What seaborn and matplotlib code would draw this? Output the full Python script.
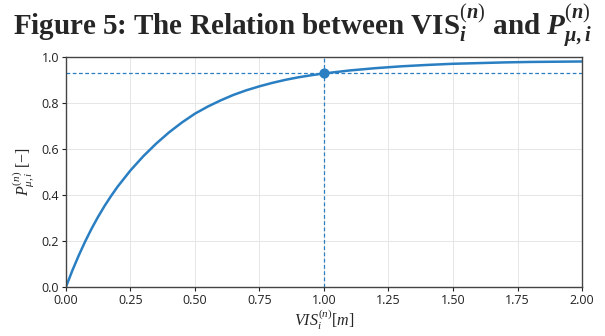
import matplotlib
matplotlib.use("Agg")
import matplotlib.pyplot as plt
import seaborn as sns
import pandas as pd

# values
vis = [0.000, 0.025, 0.050, 0.075, 0.100, 0.125, 0.150, 0.175, 0.200,
       0.250, 0.300, 0.350, 0.400, 0.450, 0.500, 0.550, 0.600, 0.650,
       0.700, 0.750, 0.800, 0.850, 0.900, 0.950, 1.000,
       1.100, 1.200, 1.300, 1.400, 1.500, 1.600, 1.700, 1.800, 1.900, 2.000]
prob = [0.000, 0.072, 0.138, 0.199, 0.255, 0.306, 0.353, 0.396, 0.436,
        0.507, 0.569, 0.624, 0.673, 0.716, 0.754, 0.785, 0.812, 0.836,
        0.856, 0.873, 0.888, 0.901, 0.912, 0.921, 0.929,
        0.942, 0.952, 0.960, 0.966, 0.971, 0.974, 0.977, 0.979, 0.980, 0.981]
mark_x = [1.0]
mark_y = [0.929]

x_ticks = [0.00, 0.25, 0.50, 0.75, 1.00, 1.25, 1.50, 1.75, 2.00]
y_ticks = [0.0, 0.2, 0.4, 0.6, 0.8, 1.0]

df = pd.DataFrame({"vis": vis, "p": prob})

sns.set_theme(style="whitegrid")
plt.rcParams["font.family"] = ["Open Sans", "DejaVu Sans"]
plt.rcParams["mathtext.fontset"] = "custom"
plt.rcParams["mathtext.rm"] = "Liberation Serif"
plt.rcParams["mathtext.it"] = "Liberation Serif:italic"
plt.rcParams["mathtext.bf"] = "Liberation Serif:bold"
plt.rcParams["mathtext.bfit"] = "Liberation Serif:italic:bold"

fig = plt.figure(figsize=(6.05, 3.36), dpi=100)
ax = fig.add_axes([0.109, 0.146, 0.853, 0.684])

blue = "#2a7fc2"
sns.lineplot(data=df, x="vis", y="p", ax=ax, color=blue, linewidth=1.8)
ax.axhline(mark_y[0], color=blue, linestyle="--", linewidth=0.9, dashes=(3, 2))
ax.axvline(mark_x[0], color=blue, linestyle="--", linewidth=0.9, dashes=(3, 2))
ax.scatter(mark_x, mark_y, color=blue, s=40, zorder=5)

ax.set_xlim(0, 2)
ax.set_ylim(0, 1)
ax.set_xticks(x_ticks)
ax.set_xticklabels([f"{t:.2f}" for t in x_ticks])
ax.set_yticks(y_ticks)
ax.set_yticklabels([f"{t:.1f}" for t in y_ticks])
ax.tick_params(axis="both", labelsize=9, colors="#222222", length=3,
               width=0.8, bottom=True, left=True, pad=2)
ax.grid(True, color="#e6e6e6", linewidth=0.7)
for s in ax.spines.values():
    s.set_color("#444444")
    s.set_linewidth(1.0)

ax.set_xlabel(r"$VIS_i^{(n)}[m]$", fontsize=11.5, labelpad=0)
ax.set_ylabel(r"$P_{\mu,i}^{(n)}\ [-]$", fontsize=11.5, labelpad=3)

fig.text(0.5, 0.922,
         r"Figure 5: The Relation between VIS$_{\mathbfit{i}}^{(\mathbfit{n})}$"
         r" and $\mathbfit{P}_{\mathbfit{\mu,i}}^{(\mathbfit{n})}$",
         ha="center", va="center", fontsize=21, fontweight="bold",
         family="Liberation Serif")

fig.savefig("out.png", dpi=100)
